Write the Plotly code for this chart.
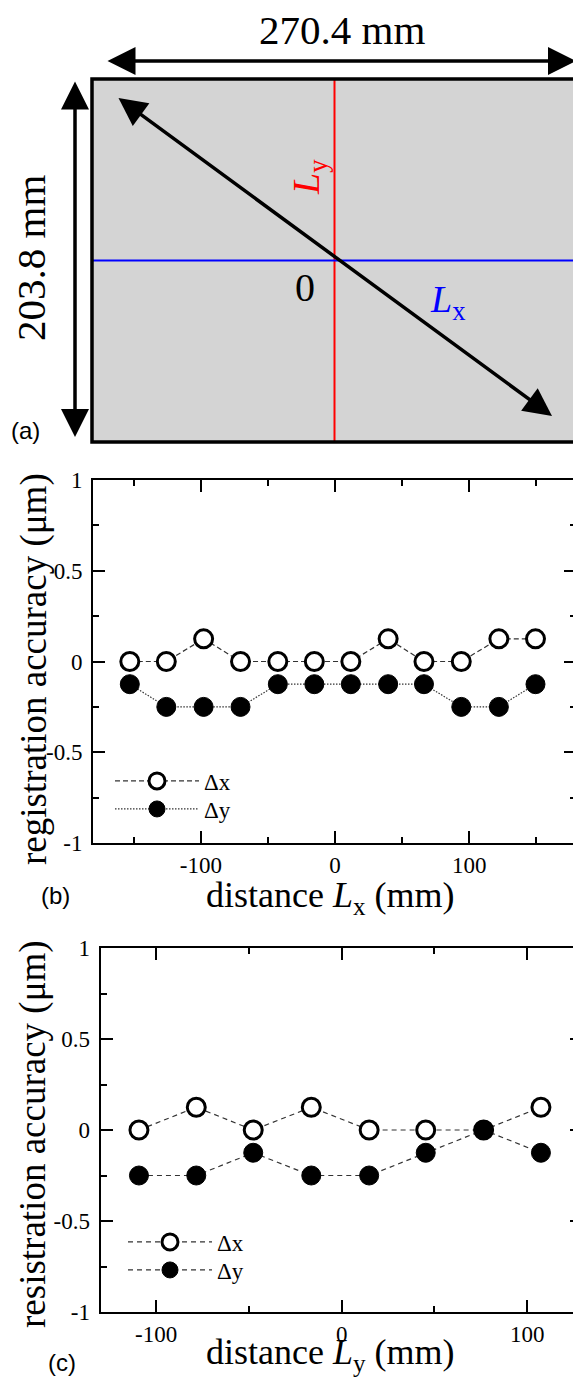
import plotly.graph_objects as go

# ---------------- data ----------------
plate_width_mm = 270.4
plate_height_mm = 203.8

lx_mm = [-152.9, -125.7, -97.9, -70.4, -42.6, -15.4, 11.8, 39.6, 66.3, 94.1, 122.1, 149.4]
lx_dx = [0, 0, 0.125, 0, 0, 0, 0, 0.125, 0, 0, 0.125, 0.125]
lx_dy = [-0.125, -0.25, -0.25, -0.25, -0.125, -0.125, -0.125, -0.125, -0.125, -0.25, -0.25, -0.125]

ly_mm = [-109.3, -78.4, -47.7, -16.4, 14.8, 45.3, 76.5, 107.4]
ly_dx = [0, 0.125, 0, 0.125, 0, 0, 0, 0.125]
ly_dy = [-0.25, -0.25, -0.125, -0.25, -0.25, -0.125, 0, -0.125]

series_names = ["Δx", "Δy"]
y_tick_vals = [-1, -0.5, 0, 0.5, 1]
y_tick_text = ["-1", "-0.5", "0", "0.5", "1"]
y_minor_vals = [-0.75, -0.25, 0.25, 0.75]
x_tick_vals = [-100, 0, 100]
x_tick_text = ["-100", "0", "100"]
x_minor_vals = [-150, -50, 50, 150]

# ---------------- layout helpers ----------------
FW, FH = 573, 1379
SERIF = "Liberation Serif"
SANS = "Liberation Sans"


def pxx(p):
    return p / FW


def pxy(p):
    return 1 - p / FH


fig = go.Figure()
line_col = "#333333"
open_marker = dict(symbol="circle", size=18, color="white", line=dict(color="black", width=3))
full_marker = dict(symbol="circle", size=19, color="black", line=dict(color="black", width=1))

# ---------------- panel (b) ----------------
b_left, b_top, b_bottom, b_zero, b_scale = 93, 480, 843, 335, 1.342
fig.add_trace(go.Scatter(
    x=lx_mm, y=lx_dx, name=series_names[0], mode="lines+markers",
    line=dict(color=line_col, width=1.2, dash="5px,3px"), marker=open_marker,
    xaxis="x", yaxis="y", legend="legend"))
fig.add_trace(go.Scatter(
    x=lx_mm, y=lx_dy, name=series_names[1], mode="lines+markers",
    line=dict(color=line_col, width=1.2, dash="1.5px,1.5px"), marker=full_marker,
    xaxis="x", yaxis="y", legend="legend3"))

# ---------------- panel (c) ----------------
c_left, c_top, c_bottom, c_zero, c_scale = 100.5, 948, 1312, 341.7, 1.855
fig.add_trace(go.Scatter(
    x=ly_mm, y=ly_dx, name=series_names[0], mode="lines+markers",
    line=dict(color=line_col, width=1.2, dash="5px,4px"), marker=open_marker,
    xaxis="x2", yaxis="y2", legend="legend2"))
fig.add_trace(go.Scatter(
    x=ly_mm, y=ly_dy, name=series_names[1], mode="lines+markers",
    line=dict(color=line_col, width=1.2, dash="5px,4px"), marker=full_marker,
    xaxis="x2", yaxis="y2", legend="legend4"))

# helper traces so the right-hand tick axes get drawn
fig.add_trace(go.Scatter(x=[None], y=[None], xaxis="x", yaxis="y4", showlegend=False, hoverinfo="skip"))
fig.add_trace(go.Scatter(x=[None], y=[None], xaxis="x2", yaxis="y5", showlegend=False, hoverinfo="skip"))

tickfont = dict(family=SERIF, size=23, color="black")
axis_common = dict(showline=True, linecolor="black", linewidth=2, automargin=False,
                   ticks="inside", ticklen=12, tickwidth=1.5, tickcolor="black",
                   showgrid=False, zeroline=False, tickfont=tickfont)

xminor = dict(tickvals=x_minor_vals, ticks="inside", ticklen=6, tickwidth=1.5, tickcolor="black", showgrid=False)
yminor = dict(tickvals=y_minor_vals, ticks="inside", ticklen=6, tickwidth=1.5, tickcolor="black", showgrid=False)

fig.update_layout(
    xaxis=dict(domain=[pxx(b_left), 1], anchor="y", mirror="ticks",
               range=[(b_left - b_zero) / b_scale, (FW - b_zero) / b_scale],
               tickmode="array", tickvals=x_tick_vals, ticktext=x_tick_text,
               minor=xminor, **axis_common),
    yaxis=dict(domain=[pxy(b_bottom), pxy(b_top)], anchor="x", range=[-1, 1], mirror=False,
               tickmode="array", tickvals=y_tick_vals, ticktext=y_tick_text,
               minor=yminor, ticklabelstandoff=4, **axis_common),
    yaxis4=dict(overlaying="y", side="right", anchor="x", range=[-1, 1], showline=False,
                showgrid=False, zeroline=False, showticklabels=False, automargin=False,
                tickmode="array", tickvals=y_tick_vals, ticks="inside", ticklen=9,
                tickwidth=1.5, tickcolor="black",
                minor=dict(tickvals=y_minor_vals, ticks="inside", ticklen=3, tickwidth=1.5,
                           tickcolor="black", showgrid=False)),
    xaxis2=dict(domain=[pxx(c_left), 1], anchor="y2", mirror="ticks",
                range=[(c_left - c_zero) / c_scale, (FW - c_zero) / c_scale],
                tickmode="array", tickvals=x_tick_vals, ticktext=x_tick_text,
                minor=xminor, **axis_common),
    yaxis2=dict(domain=[pxy(c_bottom), pxy(c_top)], anchor="x2", range=[-1, 1], mirror=False,
                tickmode="array", tickvals=y_tick_vals, ticktext=y_tick_text,
                minor=yminor, ticklabelstandoff=4, **axis_common),
    yaxis5=dict(overlaying="y2", side="right", anchor="x2", range=[-1, 1], showline=False,
                showgrid=False, zeroline=False, showticklabels=False, automargin=False,
                tickmode="array", tickvals=y_tick_vals, ticks="inside", ticklen=3,
                tickwidth=1.5, tickcolor="black"),
)

# ---------------- panel (a): plate diagram ----------------
a_left, a_right, a_top, a_bottom = 92, 577, 79, 442
kx = (a_right - a_left) / plate_width_mm
ky = (a_bottom - a_top) / plate_height_mm
cx = (a_left + a_right) / 2
cy = (a_top + a_bottom) / 2


def mx(p):
    return (p - cx) / kx


def my(p):
    return (cy - p) / ky


fig.update_layout(
    xaxis3=dict(domain=[0, 1], anchor="y3", range=[mx(0), mx(FW)], visible=False,
                fixedrange=True, automargin=False),
    yaxis3=dict(domain=[pxy(460), 1], anchor="x3", range=[my(460), my(0)], visible=False,
                fixedrange=True, automargin=False),
)
fig.add_trace(go.Scatter(x=[None], y=[None], xaxis="x3", yaxis="y3", showlegend=False, hoverinfo="skip"))

hw, hh = plate_width_mm / 2, plate_height_mm / 2
shapes = [
    dict(type="rect", xref="x3", yref="y3", x0=-hw, x1=hw, y0=-hh, y1=hh,
         fillcolor="#d4d4d4", line=dict(width=0), layer="below"),
    dict(type="line", xref="x3", yref="y3", x0=0, x1=0, y0=-hh, y1=hh,
         line=dict(color="#ff0000", width=2)),
    dict(type="line", xref="x3", yref="y3", x0=-hw, x1=hw, y0=0, y1=0,
         line=dict(color="#0000ff", width=2)),
    dict(type="rect", xref="x3", yref="y3", x0=-hw, x1=hw, y0=-hh, y1=hh,
         line=dict(color="black", width=3.5)),
]
fig.update_layout(shapes=shapes)

annotations = []


def arrow(x0, y0, x1, y1):
    annotations.append(dict(xref="x3", yref="y3", axref="x3", ayref="y3",
                            x=x1, y=y1, ax=x0, ay=y0, text="", showarrow=True,
                            arrowhead=2, startarrowhead=2, arrowside="end+start",
                            arrowsize=1.6, startarrowsize=1.6, arrowwidth=3.5,
                            arrowcolor="black", standoff=0, startstandoff=0))


arrow(mx(106), my(61), mx(576), my(61))
arrow(mx(75), my(80), mx(75), my(437))
arrow(mx(117), my(97), mx(552), my(416))


def text(x, y, t, size, family=SERIF, color="black", angle=0):
    annotations.append(dict(xref="paper", yref="paper", x=pxx(x), y=pxy(y), text=t,
                            showarrow=False, xanchor="center", yanchor="middle",
                            textangle=angle, font=dict(family=family, size=size, color=color)))


text(342, 30, f"{plate_width_mm} mm", 41)
text(31, 258, f"{plate_height_mm} mm", 41, angle=-90)
text(309, 177, "<i>L</i><sub>y</sub>", 38, color="#ff0000", angle=-90)
text(305, 287, "0", 40)
text(447, 302, "<i>L</i><sub>x</sub>", 38, color="#0000ff")
text(25, 430, "(a)", 24, family=SANS)

# panel labels & titles
text(34, 669, "registration accuracy (μm)", 37, angle=-90)
text(330, 897, "distance <i>L</i><sub>x</sub> (mm)", 36)
text(55, 895, "(b)", 24, family=SANS)
text(33, 1134, "resistration accuracy (μm)", 37, angle=-90)
text(330, 1354, "distance <i>L</i><sub>y</sub> (mm)", 36)
text(62, 1362, "(c)", 24, family=SANS)

fig.update_layout(annotations=annotations)

legend_common = dict(font=dict(family=SERIF, size=23, color="black"), bgcolor="rgba(0,0,0,0)",
                     itemwidth=84, xanchor="left", yanchor="top", tracegroupgap=0,
                     borderwidth=0)
fig.update_layout(
    legend=dict(x=pxx(110), y=pxy(759.5), **legend_common),
    legend3=dict(x=pxx(110), y=pxy(787.5), **legend_common),
    legend2=dict(x=pxx(123), y=pxy(1220.5), **legend_common),
    legend4=dict(x=pxx(123), y=pxy(1248.5), **legend_common),
)

fig.update_layout(width=FW, height=FH,
                  margin=dict(l=0, r=0, t=0, b=0, pad=0, autoexpand=False),
                  font=dict(family=SERIF, color="black"),
                  paper_bgcolor="white", plot_bgcolor="white", showlegend=True)

post = (
    "document.documentElement.style.margin='0';document.documentElement.style.padding='0';"
    "document.body.style.margin='0';document.body.style.padding='0';"
    "document.documentElement.style.overflow='hidden';document.body.style.overflow='hidden';"
    "var gd=document.getElementsByClassName('plotly-graph-div')[0];"
    "if(gd){gd.style.position='absolute';gd.style.left='0px';gd.style.top='0px';}"
)
fig.write_html("out.html", config={"displayModeBar": False}, post_script=post)
